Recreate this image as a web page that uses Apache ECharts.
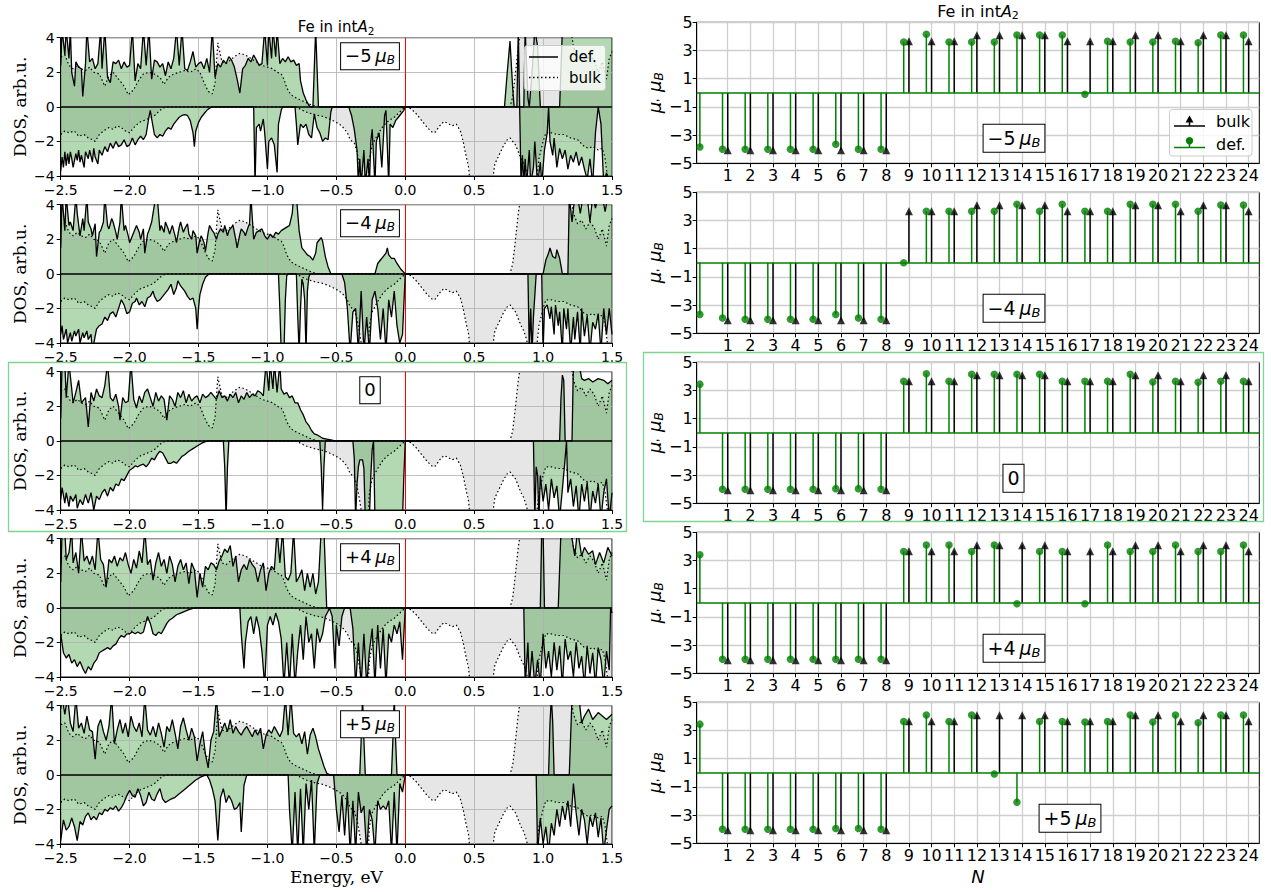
<!DOCTYPE html>
<html><head><meta charset="utf-8">
<script src="https://cdn.jsdelivr.net/npm/echarts@6.0.0/dist/echarts.min.js"></script>
<style>html,body{margin:0;padding:0;background:#fff}#c{width:1271px;height:892px}</style>
</head><body><div id="c"></div>
<script>
// ---------- DOS data (energy eV, DOS arb.u.) ----------
const bulkUp = [[-2.5,2.9],[-2.47,3.0],[-2.44,2.4],[-2.41,2.2],[-2.38,2.4],[-2.35,2.2],[-2.32,2.1],[-2.29,2.3],[-2.26,2.0],[-2.22,1.9],[-2.18,1.2],[-2.15,1.8],[-2.12,2.0],[-2.08,1.6],[-2.04,1.2],[-2.01,0.7],[-1.97,1.0],[-1.93,1.6],[-1.9,1.9],[-1.86,2.0],[-1.82,1.9],[-1.78,1.7],[-1.75,1.3],[-1.72,1.7],[-1.68,1.9],[-1.64,2.0],[-1.6,2.1],[-1.56,2.0],[-1.52,2.2],[-1.49,2.0],[-1.46,1.4],[-1.43,0.9],[-1.4,0.75],[-1.38,1.4],[-1.36,3.7],[-1.33,2.6],[-1.3,2.5],[-1.27,2.7],[-1.24,2.9],[-1.2,3.1],[-1.16,3.0],[-1.12,2.8],[-1.08,2.6],[-1.04,2.4],[-1.0,2.3],[-0.96,2.2],[-0.93,2.0],[-0.9,1.9],[-0.88,1.6],[-0.86,1.1],[-0.83,0.7],[-0.8,0.55],[-0.76,0.4],[-0.72,0.25],[-0.68,0.1],[-0.64,0.02],[-0.6,0],[0.76,0],[0.78,0.6],[0.8,2.0],[0.82,3.5],[0.84,4.6],[1.2,4.6],[1.22,3.5],[1.25,2.9],[1.28,3.1],[1.31,2.6],[1.34,3.0],[1.37,2.7],[1.4,2.0],[1.43,2.6],[1.46,1.6],[1.48,2.8],[1.5,3.2]];
const bulkDown = [[-2.5,-1.6],[-2.47,-1.4],[-2.44,-1.5],[-2.4,-1.4],[-2.37,-1.7],[-2.33,-1.6],[-2.3,-1.8],[-2.27,-1.9],[-2.25,-2.0],[-2.22,-1.6],[-2.19,-1.4],[-2.15,-1.2],[-2.12,-1.3],[-2.09,-1.1],[-2.06,-1.2],[-2.03,-1.4],[-2.0,-1.5],[-1.97,-1.2],[-1.93,-0.9],[-1.9,-0.8],[-1.87,-0.7],[-1.84,-0.6],[-1.81,-0.45],[-1.78,-0.2],[-1.75,-0.05],[-1.72,0],[-0.8,0],[-0.77,-0.1],[-0.72,-0.3],[-0.66,-0.45],[-0.6,-0.55],[-0.55,-0.7],[-0.5,-0.9],[-0.46,-1.1],[-0.42,-1.5],[-0.4,-1.9],[-0.37,-2.1],[-0.35,-2.6],[-0.33,-3.5],[-0.31,-4.5],[-0.27,-4.5],[-0.26,-3.0],[-0.24,-2.2],[-0.2,-1.6],[-0.16,-1.1],[-0.12,-0.8],[-0.08,-0.6],[-0.04,-0.3],[0.0,0],[0.04,-0.1],[0.08,-0.4],[0.12,-0.8],[0.16,-1.2],[0.2,-1.5],[0.22,-1.45],[0.25,-1.1],[0.28,-0.85],[0.31,-0.95],[0.34,-1.1],[0.37,-1.0],[0.4,-1.4],[0.42,-2.0],[0.44,-2.8],[0.46,-3.5],[0.47,-4.5],[0.63,-4.5],[0.65,-3.3],[0.68,-2.8],[0.71,-2.3],[0.74,-1.9],[0.76,-1.8],[0.78,-2.0],[0.8,-2.2],[0.82,-2.6],[0.84,-3.0],[0.86,-3.3],[0.88,-3.8],[0.9,-4.5],[0.95,-4.5],[0.97,-3.0],[1.0,-2.0],[1.02,-1.5],[1.06,-1.5],[1.1,-1.6],[1.15,-1.6],[1.2,-1.8],[1.25,-1.9],[1.3,-2.3],[1.33,-2.4],[1.36,-2.3],[1.4,-2.5],[1.43,-2.4],[1.45,-3.0],[1.47,-4.2],[1.5,-4.5]];

const defUp1 = [[-2.5,2.4],[-2.49,4.5],[-2.47,3.0],[-2.46,4.5],[-2.44,2.8],[-2.43,4.5],[-2.42,2.0],[-2.4,1.2],[-2.39,2.6],[-2.37,2.3],[-2.35,2.2],[-2.34,0.6],[-2.32,2.5],[-2.31,4.5],[-2.29,2.6],[-2.27,2.8],[-2.25,2.2],[-2.23,2.5],[-2.21,4.5],[-2.2,2.2],[-2.18,4.5],[-2.16,1.7],[-2.14,1.4],[-2.12,2.6],[-2.1,2.5],[-2.08,2.7],[-2.06,2.2],[-2.04,2.6],[-2.02,2.3],[-2.0,2.4],[-1.98,4.5],[-1.96,1.5],[-1.94,2.5],[-1.92,2.2],[-1.9,4.5],[-1.88,2.4],[-1.86,4.5],[-1.84,1.6],[-1.82,2.7],[-1.8,2.6],[-1.78,2.3],[-1.76,2.5],[-1.74,1.8],[-1.72,2.6],[-1.7,2.2],[-1.68,2.8],[-1.66,4.5],[-1.64,2.4],[-1.62,4.5],[-1.6,2.2],[-1.58,2.1],[-1.56,2.6],[-1.54,3.2],[-1.52,2.3],[-1.5,2.5],[-1.48,2.6],[-1.46,2.2],[-1.44,2.8],[-1.42,2.0],[-1.4,4.5],[-1.38,1.7],[-1.36,2.5],[-1.34,2.3],[-1.32,2.7],[-1.3,2.5],[-1.28,2.9],[-1.26,2.7],[-1.24,2.3],[-1.22,1.6],[-1.2,0.8],[-1.18,2.2],[-1.16,2.4],[-1.14,2.8],[-1.12,2.6],[-1.1,3.0],[-1.08,2.7],[-1.06,2.4],[-1.04,2.5],[-1.02,4.5],[-1.0,2.4],[-0.99,4.5],[-0.97,2.8],[-0.96,4.5],[-0.94,2.9],[-0.93,4.5],[-0.91,2.5],[-0.89,2.8],[-0.87,2.6],[-0.85,2.9],[-0.83,2.6],[-0.81,2.7],[-0.79,2.4],[-0.77,2.5],[-0.76,1.5],[-0.74,0.8],[-0.72,0.4],[-0.7,0.1],[-0.69,0],[-0.67,0],[-0.65,4.5],[-0.63,0],[0.72,0],[0.74,2.0],[0.76,3.8],[0.78,1.0],[0.79,0],[0.81,0],[0.82,4.5],[0.83,0],[0.86,0],[0.87,4.5],[0.89,0.5],[0.9,0],[0.92,2],[0.94,4.5],[0.96,3.5],[0.98,0],[1.12,0],[1.14,4.5],[1.5,4.5]];
const defDown1 = [[-2.5,-3.7],[-2.49,-2.9],[-2.48,-3.5],[-2.47,-2.6],[-2.46,-3.4],[-2.45,-2.7],[-2.44,-3.3],[-2.43,-2.6],[-2.42,-3.0],[-2.41,-3.5],[-2.39,-2.7],[-2.38,-3.1],[-2.37,-2.5],[-2.36,-3.2],[-2.35,-2.8],[-2.33,-3.5],[-2.32,-2.6],[-2.3,-3.0],[-2.29,-2.5],[-2.27,-3.2],[-2.26,-2.4],[-2.25,-2.9],[-2.23,-3.3],[-2.22,-2.5],[-2.2,-2.8],[-2.18,-2.3],[-2.16,-2.6],[-2.14,-2.1],[-2.12,-2.4],[-2.1,-2.0],[-2.08,-2.3],[-2.06,-2.2],[-2.04,-1.9],[-2.02,-2.3],[-2.0,-2.2],[-1.98,-1.8],[-1.96,-2.2],[-1.94,-1.9],[-1.92,-1.7],[-1.9,-1.9],[-1.88,-1.6],[-1.86,-0.6],[-1.85,-0.2],[-1.84,-0.7],[-1.82,-1.6],[-1.8,-1.8],[-1.78,-1.6],[-1.76,-1.7],[-1.74,-1.4],[-1.72,-1.2],[-1.7,-1.3],[-1.68,-1.0],[-1.66,-0.8],[-1.64,-0.6],[-1.62,-0.5],[-1.6,-0.45],[-1.58,-0.5],[-1.56,-0.8],[-1.54,-1.5],[-1.53,-2.3],[-1.52,-1.4],[-1.5,-0.9],[-1.48,-0.6],[-1.46,-0.4],[-1.44,-0.2],[-1.42,-0.08],[-1.4,0],[-1.1,0],[-1.09,-4.5],[-1.08,-1.2],[-1.06,-1.0],[-1.05,-1.4],[-1.03,-0.7],[-1.02,-1.5],[-1.0,-3.6],[-0.99,-2.0],[-0.97,-1.8],[-0.95,-2.2],[-0.93,-3.8],[-0.92,-1.0],[-0.9,-0.2],[-0.89,0],[-0.8,0],[-0.79,-1.0],[-0.78,-2.2],[-0.76,-1.0],[-0.74,-1.2],[-0.72,-1.0],[-0.7,-1.6],[-0.68,-1.8],[-0.66,-0.4],[-0.64,-1.2],[-0.62,-1.5],[-0.6,-2.0],[-0.58,-1.8],[-0.56,-1.9],[-0.54,-0.3],[-0.53,0],[-0.41,0],[-0.39,-0.5],[-0.37,-1.3],[-0.35,-2.5],[-0.34,-4.5],[-0.33,-3.0],[-0.32,-4.5],[-0.3,-2.5],[-0.29,-4.5],[-0.27,-3.0],[-0.26,-4.5],[-0.25,-2.0],[-0.24,-1.3],[-0.22,-4.5],[-0.21,-2.0],[-0.19,-1.5],[-0.17,-3.5],[-0.15,-0.5],[-0.14,-0.2],[-0.12,-4.5],[-0.11,-1.0],[-0.09,-1.2],[-0.07,-0.8],[-0.05,-0.6],[-0.03,-0.4],[-0.01,-0.2],[0.0,0],[0.83,0],[0.84,-4.5],[0.85,-2.8],[0.86,-4.5],[0.87,-3.0],[0.88,-4.5],[0.9,-2.5],[0.91,-4.5],[0.93,-3.5],[0.94,-2.0],[0.96,-4.5],[0.98,-3.2],[0.99,-4.5],[1.01,-2.5],[1.03,-1.5],[1.04,0],[1.05,-2.0],[1.07,-2.8],[1.08,-1.8],[1.1,-3.5],[1.12,-2.4],[1.14,-3.0],[1.16,-2.5],[1.18,-3.6],[1.2,-2.8],[1.22,-3.2],[1.24,-2.6],[1.26,-3.4],[1.28,-2.9],[1.3,-3.6],[1.32,-4.2],[1.34,-3.0],[1.36,-4.5],[1.38,-1.5],[1.4,0],[1.42,-1.0],[1.44,-4.5],[1.46,-3.8],[1.48,-4.5],[1.5,-4.0]];

const defUp2 = [[-2.5,1.5],[-2.49,4.5],[-2.47,2.5],[-2.46,4.5],[-2.44,2.8],[-2.43,3.0],[-2.41,2.5],[-2.39,4.5],[-2.38,3.5],[-2.36,2.2],[-2.34,3.2],[-2.33,2.5],[-2.31,4.5],[-2.3,3.0],[-2.28,2.6],[-2.27,2.2],[-2.25,2.9],[-2.24,1.0],[-2.22,2.4],[-2.21,2.5],[-2.19,3.0],[-2.18,4.5],[-2.16,2.8],[-2.15,2.6],[-2.13,3.2],[-2.12,3.0],[-2.1,2.4],[-2.09,2.0],[-2.07,3.0],[-2.06,4.5],[-2.04,2.5],[-2.03,2.8],[-2.01,2.2],[-2.0,1.8],[-1.98,2.2],[-1.96,2.6],[-1.95,2.8],[-1.93,2.4],[-1.92,2.0],[-1.9,2.6],[-1.89,1.2],[-1.87,2.3],[-1.86,2.5],[-1.84,3.0],[-1.83,3.5],[-1.81,4.5],[-1.8,4.5],[-1.78,2.5],[-1.77,2.8],[-1.75,2.4],[-1.74,3.0],[-1.72,2.6],[-1.71,2.3],[-1.69,2.8],[-1.67,2.2],[-1.66,1.8],[-1.64,2.7],[-1.63,3.0],[-1.61,2.4],[-1.6,2.6],[-1.58,2.9],[-1.57,2.3],[-1.55,2.0],[-1.54,2.5],[-1.52,2.2],[-1.51,1.2],[-1.49,2.0],[-1.48,2.2],[-1.46,1.8],[-1.45,1.3],[-1.43,2.4],[-1.42,2.8],[-1.4,2.5],[-1.39,2.4],[-1.37,2.0],[-1.36,2.3],[-1.34,2.6],[-1.32,2.4],[-1.31,2.8],[-1.29,2.2],[-1.28,2.5],[-1.26,2.7],[-1.25,2.8],[-1.23,2.0],[-1.22,1.5],[-1.2,2.3],[-1.19,2.6],[-1.17,2.4],[-1.16,2.2],[-1.14,2.7],[-1.13,2.9],[-1.12,4.5],[-1.1,2.0],[-1.08,2.4],[-1.06,2.5],[-1.04,2.6],[-1.02,2.2],[-1.0,2.0],[-0.98,2.3],[-0.96,2.1],[-0.94,2.4],[-0.92,2.3],[-0.9,2.5],[-0.88,2.6],[-0.86,2.7],[-0.84,2.8],[-0.82,3.5],[-0.81,4.5],[-0.79,4.5],[-0.77,2.5],[-0.75,1.5],[-0.73,1.3],[-0.71,1.1],[-0.69,1.0],[-0.67,0.8],[-0.65,1.2],[-0.64,1.8],[-0.62,2.0],[-0.61,2.1],[-0.6,1.9],[-0.58,1.0],[-0.56,0.4],[-0.54,0],[-0.22,0],[-0.2,0.6],[-0.18,0.8],[-0.16,1.0],[-0.14,1.2],[-0.13,1.5],[-0.12,1.1],[-0.1,0.9],[-0.08,0.9],[-0.06,0.6],[-0.03,0.25],[0,0],[1.0,0],[1.02,0.8],[1.04,1.2],[1.05,1.5],[1.07,1.0],[1.09,0.9],[1.1,1.4],[1.12,0.9],[1.14,0],[1.18,0],[1.19,4.5],[1.21,3.0],[1.23,4.5],[1.25,4.5],[1.27,3.5],[1.29,4.5],[1.32,4.5],[1.34,3.0],[1.36,4.5],[1.38,3.8],[1.4,4.5],[1.43,4.5],[1.45,3.6],[1.47,4.5],[1.5,4.5]];
const defDown2 = [[-2.5,-3.5],[-2.49,-3.0],[-2.48,-3.8],[-2.46,-3.2],[-2.45,-4.0],[-2.43,-3.4],[-2.42,-3.9],[-2.4,-3.3],[-2.39,-3.6],[-2.37,-3.2],[-2.36,-4.0],[-2.34,-3.4],[-2.33,-3.7],[-2.31,-3.3],[-2.3,-3.8],[-2.28,-3.5],[-2.27,-4.5],[-2.25,-3.6],[-2.24,-3.2],[-2.22,-3.0],[-2.2,-2.9],[-2.18,-2.5],[-2.16,-2.7],[-2.14,-2.3],[-2.12,-2.2],[-2.1,-2.5],[-2.08,-2.0],[-2.06,-1.5],[-2.04,-1.8],[-2.02,-2.3],[-2.0,-2.2],[-1.98,-1.7],[-1.96,-1.6],[-1.95,-1.4],[-1.93,-1.8],[-1.91,-1.6],[-1.89,-1.9],[-1.87,-1.4],[-1.85,-1.3],[-1.83,-1.0],[-1.82,-1.3],[-1.8,-1.6],[-1.78,-1.5],[-1.76,-1.3],[-1.74,-1.1],[-1.72,-0.9],[-1.7,-0.6],[-1.69,-0.9],[-1.68,-1.2],[-1.66,-0.8],[-1.65,-0.4],[-1.63,-0.7],[-1.61,-0.9],[-1.6,-1.0],[-1.58,-1.3],[-1.56,-1.5],[-1.54,-1.4],[-1.52,-2.0],[-1.51,-3.2],[-1.5,-2.0],[-1.49,-1.2],[-1.47,-0.6],[-1.45,-0.2],[-1.43,-0.05],[-1.42,0],[-0.92,0],[-0.91,-2.0],[-0.9,-4.5],[-0.88,-4.5],[-0.87,-1.5],[-0.86,-0.1],[-0.85,0],[-0.79,0],[-0.78,-2.5],[-0.77,-4.5],[-0.76,-2.0],[-0.75,-0.3],[-0.74,-0.6],[-0.73,-1.5],[-0.72,-4.5],[-0.71,-1.0],[-0.7,-0.2],[-0.69,0],[-0.46,0],[-0.44,-0.5],[-0.42,-2.0],[-0.4,-4.5],[-0.38,-2.2],[-0.36,-2.0],[-0.34,-4.5],[-0.32,-1.0],[-0.3,-4.5],[-0.28,-2.5],[-0.26,-4.5],[-0.24,-1.5],[-0.22,-1.0],[-0.2,-2.0],[-0.18,-3.8],[-0.16,-2.0],[-0.14,-4.5],[-0.12,-1.5],[-0.1,-2.5],[-0.08,-1.0],[-0.06,-3.0],[-0.04,-4.0],[-0.02,-3.5],[0,0],[0.89,0],[0.9,-4.5],[0.91,-2.0],[0.92,-4.5],[0.93,-2.5],[0.95,0],[0.99,0],[1.0,-4.5],[1.01,-2.0],[1.03,-1.8],[1.05,-2.6],[1.06,-1.9],[1.08,-3.5],[1.09,-1.8],[1.11,-3.0],[1.12,-2.2],[1.14,-4.5],[1.15,-2.0],[1.17,-3.2],[1.18,-2.0],[1.2,-4.5],[1.22,-2.5],[1.23,-3.8],[1.25,-2.2],[1.27,-4.5],[1.28,-2.0],[1.3,-3.6],[1.32,-2.4],[1.34,-4.5],[1.36,-2.8],[1.38,-3.2],[1.4,-2.3],[1.42,-4.5],[1.44,-2.0],[1.46,-3.5],[1.48,-2.0],[1.5,-3.5]];

const defUp3 = [[-2.5,1.3],[-2.49,4.5],[-2.47,4.5],[-2.46,2.5],[-2.44,4.5],[-2.42,3.0],[-2.41,2.2],[-2.39,2.8],[-2.37,3.5],[-2.35,2.2],[-2.32,2.5],[-2.3,0.8],[-2.28,2.8],[-2.26,2.3],[-2.24,3.0],[-2.22,2.6],[-2.2,2.5],[-2.18,3.2],[-2.16,4.5],[-2.14,2.5],[-2.12,2.3],[-2.1,2.7],[-2.08,2.0],[-2.07,1.2],[-2.05,2.5],[-2.03,2.2],[-2.01,2.3],[-1.99,4.5],[-1.97,2.4],[-1.95,1.9],[-1.93,2.6],[-1.91,2.2],[-1.89,2.8],[-1.87,3.0],[-1.85,2.5],[-1.83,2.0],[-1.81,2.8],[-1.79,2.3],[-1.77,2.6],[-1.75,2.4],[-1.73,1.2],[-1.71,2.6],[-1.69,2.4],[-1.67,2.0],[-1.65,2.8],[-1.63,2.5],[-1.61,2.9],[-1.59,2.2],[-1.57,2.7],[-1.55,2.3],[-1.53,2.5],[-1.51,2.6],[-1.49,2.2],[-1.47,2.7],[-1.45,2.5],[-1.43,2.6],[-1.41,2.8],[-1.39,2.6],[-1.37,2.4],[-1.35,2.9],[-1.33,2.5],[-1.31,2.6],[-1.29,2.3],[-1.27,2.7],[-1.25,2.5],[-1.23,2.8],[-1.21,2.2],[-1.19,2.6],[-1.17,2.4],[-1.15,2.8],[-1.13,2.5],[-1.11,2.7],[-1.09,2.6],[-1.07,2.9],[-1.05,2.8],[-1.03,2.6],[-1.01,4.5],[-0.99,2.9],[-0.98,4.5],[-0.96,3.0],[-0.95,4.5],[-0.93,2.8],[-0.91,4.5],[-0.9,3.0],[-0.88,2.7],[-0.86,2.8],[-0.84,2.5],[-0.82,2.6],[-0.8,2.2],[-0.78,2.2],[-0.76,1.8],[-0.74,1.5],[-0.72,1.1],[-0.7,0.9],[-0.68,0.6],[-0.66,0.4],[-0.64,0.35],[-0.62,0.25],[-0.6,0.15],[-0.57,0.1],[-0.54,0.05],[-0.51,0],[1.12,0],[1.13,2.5],[1.14,3.8],[1.15,3.5],[1.16,0],[1.21,0],[1.22,4.5],[1.26,4.5],[1.28,3.6],[1.3,3.5],[1.33,3.6],[1.36,3.4],[1.4,3.6],[1.44,3.5],[1.47,3.3],[1.5,3.5]];
const defDown3 = [[-2.5,-3.4],[-2.49,-2.7],[-2.47,-3.6],[-2.46,-3.0],[-2.44,-3.8],[-2.43,-3.2],[-2.41,-3.5],[-2.39,-3.1],[-2.38,-3.9],[-2.36,-3.4],[-2.34,-3.7],[-2.32,-3.1],[-2.3,-3.6],[-2.28,-3.0],[-2.26,-4.0],[-2.24,-3.2],[-2.22,-3.4],[-2.2,-3.0],[-2.18,-2.8],[-2.16,-3.2],[-2.14,-2.7],[-2.12,-2.9],[-2.1,-2.5],[-2.08,-2.6],[-2.06,-2.2],[-2.04,-2.3],[-2.02,-2.0],[-2.0,-1.7],[-1.98,-1.6],[-1.96,-1.45],[-1.94,-1.5],[-1.92,-1.4],[-1.9,-1.35],[-1.88,-1.5],[-1.86,-1.3],[-1.84,-1.0],[-1.82,-1.1],[-1.8,-0.8],[-1.78,-0.6],[-1.76,-0.7],[-1.74,-1.0],[-1.72,-1.3],[-1.7,-1.3],[-1.68,-1.2],[-1.66,-1.3],[-1.64,-1.1],[-1.62,-0.9],[-1.6,-0.8],[-1.57,-0.6],[-1.54,-0.45],[-1.51,-0.3],[-1.48,-0.15],[-1.45,-0.05],[-1.42,0],[-1.32,0],[-1.31,-1.5],[-1.3,-4.5],[-1.29,-1.5],[-1.28,0],[-0.62,0],[-0.61,-1.5],[-0.6,-4.0],[-0.59,-1.5],[-0.58,0],[-0.38,0],[-0.37,-1.0],[-0.36,-4.5],[-0.35,-2.5],[-0.34,-1.5],[-0.33,-1.1],[-0.31,-1.1],[-0.3,-1.6],[-0.29,-4.5],[-0.26,-4.5],[-0.25,-2.0],[-0.24,-0.5],[-0.23,0],[-0.22,-4.5],[-0.2,-4.5],[-0.18,-4.2],[-0.15,-4.5],[-0.12,-4.5],[-0.1,-4.4],[-0.07,-4.5],[-0.04,-4.5],[-0.02,-4.5],[-0.01,-2.0],[0,0],[0.93,0],[0.94,-4.5],[0.95,-1.5],[0.96,-2.0],[0.97,-4.5],[0.98,-2.0],[1.0,-3.5],[1.02,-2.5],[1.04,-4.0],[1.06,-2.2],[1.08,-3.3],[1.1,-2.6],[1.12,-4.5],[1.14,-2.8],[1.16,-1.0],[1.17,0],[1.18,-3.0],[1.2,-2.2],[1.22,-3.8],[1.24,-2.6],[1.26,-4.5],[1.28,-2.5],[1.3,-3.5],[1.32,-2.4],[1.34,-4.5],[1.36,-2.9],[1.38,-3.6],[1.4,-2.5],[1.42,-4.5],[1.44,-3.0],[1.46,-2.2],[1.48,-4.5],[1.5,-3.0]];

const defUp4 = [[-2.5,1.5],[-2.49,4.5],[-2.47,4.5],[-2.46,2.8],[-2.44,3.2],[-2.42,4.5],[-2.41,2.6],[-2.39,3.2],[-2.37,2.0],[-2.35,4.5],[-2.33,2.7],[-2.31,3.0],[-2.29,2.5],[-2.27,3.0],[-2.25,2.2],[-2.23,4.5],[-2.21,2.8],[-2.19,2.5],[-2.17,1.2],[-2.15,2.8],[-2.13,2.6],[-2.11,3.0],[-2.09,2.4],[-2.07,2.9],[-2.05,2.7],[-2.03,3.2],[-2.01,2.5],[-1.99,2.0],[-1.97,2.8],[-1.95,2.3],[-1.93,3.3],[-1.91,2.6],[-1.89,4.5],[-1.87,2.5],[-1.85,2.8],[-1.83,1.6],[-1.81,2.6],[-1.79,3.2],[-1.77,2.4],[-1.75,2.8],[-1.73,2.0],[-1.71,3.0],[-1.69,2.5],[-1.67,1.5],[-1.65,2.4],[-1.63,2.8],[-1.61,2.2],[-1.59,2.6],[-1.57,1.4],[-1.55,2.6],[-1.53,2.2],[-1.51,0.6],[-1.49,2.0],[-1.47,1.2],[-1.45,2.4],[-1.43,2.2],[-1.41,2.6],[-1.39,2.5],[-1.37,2.2],[-1.35,2.7],[-1.33,3.0],[-1.31,3.4],[-1.29,3.2],[-1.27,3.6],[-1.25,2.4],[-1.23,3.0],[-1.21,1.5],[-1.19,2.2],[-1.17,2.5],[-1.15,2.2],[-1.13,2.8],[-1.11,2.5],[-1.09,2.3],[-1.07,1.5],[-1.05,2.2],[-1.03,2.6],[-1.01,1.0],[-0.99,2.0],[-0.97,2.4],[-0.95,2.2],[-0.93,4.5],[-0.91,2.6],[-0.89,4.5],[-0.87,1.8],[-0.85,1.6],[-0.83,2.0],[-0.81,4.5],[-0.79,1.5],[-0.77,1.8],[-0.75,2.2],[-0.73,1.0],[-0.71,2.0],[-0.69,1.2],[-0.67,2.0],[-0.65,0.8],[-0.63,1.5],[-0.61,4.5],[-0.59,4.5],[-0.57,0],[0.98,0],[0.99,4.5],[1.0,4.5],[1.01,0],[1.11,0],[1.13,4.5],[1.2,4.5],[1.23,3.0],[1.25,4.5],[1.28,3.0],[1.3,3.5],[1.33,3.1],[1.36,3.3],[1.38,2.5],[1.41,3.2],[1.44,2.6],[1.47,3.5],[1.5,3.0]];
const defDown4 = [[-2.5,-1.5],[-2.48,-2.6],[-2.46,-2.9],[-2.44,-2.7],[-2.42,-3.2],[-2.4,-3.0],[-2.38,-3.4],[-2.36,-3.1],[-2.34,-3.5],[-2.32,-3.8],[-2.3,-3.4],[-2.28,-3.6],[-2.26,-3.2],[-2.24,-3.0],[-2.22,-2.6],[-2.2,-2.5],[-2.18,-2.4],[-2.16,-2.3],[-2.14,-2.4],[-2.12,-2.2],[-2.1,-2.1],[-2.08,-1.8],[-2.06,-1.6],[-2.04,-1.7],[-2.02,-1.5],[-2.0,-1.5],[-1.98,-1.4],[-1.96,-1.5],[-1.94,-1.4],[-1.92,-1.5],[-1.9,-1.4],[-1.88,-0.8],[-1.87,-0.5],[-1.85,-0.9],[-1.83,-1.5],[-1.81,-1.6],[-1.79,-1.4],[-1.77,-1.5],[-1.75,-1.2],[-1.73,-0.9],[-1.71,-0.7],[-1.69,-0.6],[-1.66,-0.4],[-1.63,-0.3],[-1.6,-0.2],[-1.57,-0.1],[-1.54,-0.03],[-1.52,0],[-1.2,0],[-1.19,-1.5],[-1.17,-3.5],[-1.16,-2.0],[-1.14,-0.8],[-1.12,-0.5],[-1.1,-1.5],[-1.08,-0.5],[-1.06,-1.2],[-1.04,-2.5],[-1.02,-4.5],[-1.0,-1.0],[-0.98,-0.5],[-0.96,-1.0],[-0.94,-0.3],[-0.92,-0.8],[-0.9,-1.8],[-0.88,-4.5],[-0.86,-2.0],[-0.84,-4.5],[-0.82,-1.5],[-0.8,-4.5],[-0.78,-2.5],[-0.76,-1.0],[-0.74,-3.0],[-0.72,-0.5],[-0.7,-2.0],[-0.68,-1.5],[-0.66,-3.5],[-0.64,-1.2],[-0.62,-2.0],[-0.6,-1.5],[-0.58,-0.5],[-0.56,-0.2],[-0.55,0],[-0.53,-0.5],[-0.51,-3.5],[-0.5,-1.0],[-0.48,-2.2],[-0.46,-0.5],[-0.44,0],[-0.4,0],[-0.38,-1.2],[-0.36,-4.5],[-0.34,-2.0],[-0.32,-4.5],[-0.3,-1.5],[-0.28,-4.5],[-0.26,-2.5],[-0.24,-1.2],[-0.22,-4.5],[-0.2,-1.0],[-0.18,-3.5],[-0.16,-1.2],[-0.14,-4.5],[-0.12,-1.5],[-0.1,-2.0],[-0.08,-1.0],[-0.06,-1.5],[-0.04,-0.8],[-0.02,-3.0],[0,0],[0.86,0],[0.87,-4.5],[0.89,-2.0],[0.9,-4.5],[0.92,-2.5],[0.94,-4.5],[0.96,-3.0],[0.98,-4.5],[1.0,-1.5],[1.02,-3.5],[1.04,-2.5],[1.06,-4.0],[1.08,-2.0],[1.1,-3.6],[1.12,-2.2],[1.14,-4.5],[1.16,-1.8],[1.18,-3.0],[1.2,-2.5],[1.22,-4.0],[1.24,-2.0],[1.26,-3.5],[1.28,-2.8],[1.3,-4.5],[1.32,-2.2],[1.34,-3.8],[1.36,-2.6],[1.38,-4.5],[1.4,-2.3],[1.42,-3.0],[1.44,-4.5],[1.46,-2.5],[1.48,-3.6],[1.49,0],[1.5,-0.3]];

const defUp5 = [[-2.5,3.8],[-2.49,4.5],[-2.47,3.5],[-2.45,4.5],[-2.43,3.0],[-2.41,2.5],[-2.39,4.5],[-2.37,2.7],[-2.35,3.0],[-2.33,2.4],[-2.31,3.4],[-2.29,2.6],[-2.27,2.5],[-2.25,0.9],[-2.23,2.8],[-2.21,3.2],[-2.19,2.5],[-2.17,2.0],[-2.15,2.8],[-2.13,4.5],[-2.11,1.8],[-2.09,2.6],[-2.07,3.2],[-2.05,2.4],[-2.03,3.0],[-2.01,2.2],[-1.99,3.4],[-1.97,2.8],[-1.95,2.5],[-1.93,3.0],[-1.91,2.2],[-1.89,4.5],[-1.87,2.6],[-1.85,2.3],[-1.83,2.8],[-1.81,2.2],[-1.79,3.0],[-1.77,2.4],[-1.75,1.6],[-1.73,2.8],[-1.71,2.5],[-1.69,3.2],[-1.67,2.4],[-1.65,1.5],[-1.63,2.8],[-1.61,3.3],[-1.59,2.6],[-1.57,2.0],[-1.55,2.7],[-1.53,2.2],[-1.51,0.8],[-1.49,1.8],[-1.47,2.5],[-1.45,1.2],[-1.43,0.4],[-1.41,2.0],[-1.39,2.5],[-1.37,4.5],[-1.35,2.2],[-1.33,2.6],[-1.31,3.0],[-1.29,2.5],[-1.27,3.2],[-1.25,2.4],[-1.23,2.8],[-1.21,2.5],[-1.19,2.3],[-1.17,2.6],[-1.15,2.8],[-1.13,2.5],[-1.11,2.2],[-1.09,2.6],[-1.07,2.3],[-1.05,2.7],[-1.03,1.5],[-1.01,2.3],[-0.99,2.6],[-0.97,2.4],[-0.95,2.8],[-0.93,2.5],[-0.91,2.2],[-0.89,2.6],[-0.87,4.5],[-0.85,2.3],[-0.83,4.5],[-0.81,2.4],[-0.79,2.2],[-0.77,2.4],[-0.75,1.8],[-0.73,2.5],[-0.71,1.2],[-0.69,2.3],[-0.67,2.7],[-0.65,2.2],[-0.63,1.5],[-0.61,1.0],[-0.59,0.5],[-0.57,0.1],[-0.55,0],[-0.33,0],[-0.32,2.0],[-0.31,4.5],[-0.3,2.0],[-0.29,0],[-0.1,0],[-0.09,2.0],[-0.08,4.5],[-0.07,2.0],[-0.06,0],[1.04,0],[1.05,3.0],[1.06,4.5],[1.07,3.0],[1.08,0],[1.19,0],[1.21,4.5],[1.26,4.5],[1.28,3.0],[1.3,3.4],[1.33,3.8],[1.36,3.2],[1.4,3.6],[1.43,3.4],[1.46,3.2],[1.5,3.5]];
const defDown5 = [[-2.5,-3.8],[-2.48,-2.6],[-2.46,-3.2],[-2.44,-3.0],[-2.42,-2.5],[-2.4,-3.0],[-2.38,-3.8],[-2.36,-2.7],[-2.34,-2.9],[-2.32,-2.4],[-2.3,-2.2],[-2.28,-2.6],[-2.26,-2.4],[-2.24,-2.6],[-2.22,-2.2],[-2.2,-2.3],[-2.18,-2.0],[-2.16,-2.1],[-2.14,-1.9],[-2.12,-2.0],[-2.1,-1.8],[-2.08,-2.1],[-2.06,-1.9],[-2.04,-1.6],[-2.02,-1.2],[-2.0,-0.9],[-1.98,-1.2],[-1.96,-1.3],[-1.94,-0.8],[-1.92,-1.2],[-1.9,-1.8],[-1.88,-1.6],[-1.86,-1.0],[-1.84,-1.4],[-1.82,-1.5],[-1.8,-1.1],[-1.78,-0.8],[-1.76,-1.4],[-1.74,-1.6],[-1.72,-1.5],[-1.7,-1.4],[-1.67,-1.3],[-1.64,-1.1],[-1.61,-0.9],[-1.58,-0.7],[-1.55,-0.5],[-1.52,-0.3],[-1.49,-0.15],[-1.46,-0.05],[-1.44,0],[-1.42,-0.3],[-1.4,-0.8],[-1.38,-1.5],[-1.36,-3.8],[-1.34,-1.3],[-1.32,-0.8],[-1.3,-1.6],[-1.28,-1.2],[-1.26,-1.5],[-1.24,-2.0],[-1.22,-1.9],[-1.2,-1.6],[-1.19,-3.3],[-1.17,-0.6],[-1.15,0],[-0.85,0],[-0.84,-2.0],[-0.82,-4.5],[-0.8,-1.0],[-0.78,-4.5],[-0.76,-0.8],[-0.74,-4.5],[-0.72,-0.5],[-0.7,-2.0],[-0.68,-0.3],[-0.66,-4.5],[-0.64,-0.5],[-0.62,0],[-0.52,0],[-0.5,-2.0],[-0.48,-3.3],[-0.46,-1.2],[-0.44,-3.5],[-0.42,-1.0],[-0.4,-4.5],[-0.38,-1.5],[-0.36,-4.5],[-0.34,-1.0],[-0.32,-2.2],[-0.3,-1.8],[-0.28,-4.5],[-0.26,-2.0],[-0.24,-2.6],[-0.22,-4.5],[-0.2,-1.5],[-0.18,-2.0],[-0.16,-1.8],[-0.14,-2.0],[-0.12,-1.5],[-0.1,-4.5],[-0.08,-1.0],[-0.06,-4.5],[-0.04,-0.5],[-0.02,-1.0],[0,0],[0.95,0],[0.96,-4.5],[0.98,-2.5],[1.0,-4.0],[1.02,-3.0],[1.04,-4.5],[1.06,-2.8],[1.08,-3.5],[1.1,-2.0],[1.12,-3.0],[1.14,-1.8],[1.16,-2.6],[1.18,-1.5],[1.2,-3.0],[1.22,-0.5],[1.24,-2.2],[1.26,-3.5],[1.28,-2.0],[1.3,-2.6],[1.32,-4.0],[1.34,-2.4],[1.36,-3.0],[1.38,-2.2],[1.4,-3.6],[1.42,-2.5],[1.44,-4.5],[1.46,-3.2],[1.48,-2.0],[1.5,-1.8]];

// ---------- magnetic moments (mu_B) ----------
const bulkN = [1,2,3,4,5,6,7,8,9,10,11,12,13,14,15,16,17,18,19,20,21,22,23,24];
const bulkMu = [-4.08,-4.08,-4.08,-4.08,-4.08,-4.08,-4.08,-4.08,3.65,3.65,3.65,4.08,4.08,4.08,4.08,3.65,3.65,3.65,4.08,4.08,3.65,4.08,4.08,3.65];
const defN = [0,1,2,3,4,5,6,7,8,9,10,11,12,13,14,15,16,17,18,19,20,21,22,23,24];
const defMu1 = [-3.85,-4.0,-4.0,-4.0,-4.0,-4.0,-3.65,-4.0,-4.0,3.6,4.15,3.6,3.6,3.6,4.1,4.1,4.1,-0.1,3.65,3.6,3.6,3.65,3.55,4.1,4.1];
const defMu2 = [-3.66,-3.92,-4.0,-4.0,-4.0,-4.0,-3.66,-3.92,-4.0,0.0,3.66,3.66,3.66,3.66,4.15,3.66,4.15,3.66,3.66,4.15,4.15,4.15,3.66,4.1,4.1];
const defMu3 = [3.45,-4.0,-4.0,-4.0,-4.0,-4.0,-3.96,-3.96,-4.0,3.66,4.18,3.66,4.15,4.15,4.15,4.15,3.66,3.66,3.66,4.15,3.6,3.66,3.59,3.66,3.66];
const defMu4 = [3.4,-4.0,-4.0,-4.0,-4.0,-4.0,-4.0,-4.0,-4.0,3.64,4.1,4.1,3.64,4.1,-0.07,3.64,3.64,-0.07,4.1,3.64,3.64,4.1,3.64,3.64,4.1];
const defMu5 = [3.45,-4.0,-4.0,-4.0,-4.0,-4.0,-3.95,-3.95,-4.0,3.64,4.1,3.64,4.1,-0.08,-2.08,3.64,3.64,3.6,3.64,4.1,3.6,4.1,3.55,4.1,4.1];

const chargeTags = ['\u22125', '\u22124', '0', '+4', '+5'];
const nTicks = [1,2,3,4,5,6,7,8,9,10,11,12,13,14,15,16,17,18,19,20,21,22,23,24];
const muTicks = [-5,-3,-1,1,3,5];

// ---------- layout ----------
const defUps = [defUp1, defUp2, defUp3, defUp4, defUp5];
const defDowns = [defDown1, defDown2, defDown3, defDown4, defDown5];
const defMus = [defMu1, defMu2, defMu3, defMu4, defMu5];
const dosTop = [37.7, 204.7, 371.7, 538.7, 705.7];
const stemTop = [22.3, 192.3, 362.3, 532.3, 702.3];
const tagStemX = [1014, 1014, 1013.5, 1014, 1070];
const GREEN = '#008000';
const FONT = 'DejaVu Sans';

const fmt1 = v => (v < 0 ? '\u2212' : '') + Math.abs(v).toFixed(1);
const fmt0 = v => (v < 0 ? '\u2212' : '') + Math.abs(Math.round(v));

const grids = [], xAxes = [], yAxes = [], series = [], graphics = [];

for (let k = 0; k < 5; k++) {
  grids.push({left: 60.7, top: dosTop[k], width: 551.3, height: 138.3, show: true, borderColor: '#000', borderWidth: 1, backgroundColor: 'transparent', outerBoundsMode: 'none'});
  xAxes.push({gridIndex: k, type: 'value', min: -2.5, max: 1.5, interval: 0.5, z: 3,
    axisLine: {show: true, onZero: false, lineStyle: {color: '#000', width: 1}},
    axisTick: {show: true, length: 4, lineStyle: {color: '#000'}},
    axisLabel: {color: '#000', fontSize: 14, fontFamily: FONT, margin: 7, lineHeight: 14, formatter: fmt1, showMinLabel: true, showMaxLabel: true},
    splitLine: {show: true, lineStyle: {color: '#b0b0b0', width: 0.8}},
    name: k === 4 ? 'Energy, eV' : '', nameLocation: 'middle', nameGap: 24,
    nameTextStyle: {fontFamily: 'DejaVu Serif', fontSize: 17, color: '#000'}});
  yAxes.push({gridIndex: k, type: 'value', min: -4, max: 4, interval: 2, z: 3,
    axisLine: {show: true, onZero: false, lineStyle: {color: '#000', width: 1}},
    axisTick: {show: true, length: 4, lineStyle: {color: '#000'}},
    axisLabel: {color: '#000', fontSize: 14, fontFamily: FONT, margin: 6, lineHeight: 12, formatter: fmt0, showMinLabel: true, showMaxLabel: true},
    splitLine: {show: true, lineStyle: {color: '#b0b0b0', width: 0.8}},
    name: 'DOS, arb.u.', nameLocation: 'middle', nameGap: 32, nameRotate: 90,
    nameTextStyle: {fontFamily: 'DejaVu Serif', fontSize: 17, color: '#000'}});
  const common = {type: 'line', xAxisIndex: k, yAxisIndex: k, symbol: 'none', showSymbol: false, silent: true, animation: false, clip: true};
  const fills = [[bulkUp, 'rgba(128,128,128,0.2)'], [bulkDown, 'rgba(128,128,128,0.2)'],
                 [defUps[k], 'rgba(0,128,0,0.3)'], [defDowns[k], 'rgba(0,128,0,0.3)']];
  fills.forEach(([d, c]) => series.push(Object.assign({}, common, {data: d, z: 1,
    lineStyle: {width: 0, opacity: 0}, areaStyle: {color: c, opacity: 1, origin: 'auto'}})));
  series.push(Object.assign({}, common, {name: 'bulk', data: bulkUp, z: 5,
    lineStyle: {color: '#000', width: 1.2, type: [1.5, 2.5]}}));
  series.push(Object.assign({}, common, {name: 'bulk', data: bulkDown, z: 5,
    lineStyle: {color: '#000', width: 1.2, type: [1.5, 2.5]}}));
  series.push(Object.assign({}, common, {name: 'def.', data: defUps[k], z: 6,
    lineStyle: {color: '#000', width: 1.3},
    markLine: {silent: true, symbol: 'none', label: {show: false}, animation: false,
      data: [{xAxis: 0, lineStyle: {color: '#ff0000', width: 1, type: 'solid'}},
             {yAxis: 0, lineStyle: {color: '#000', width: 1.6, type: 'solid'}}]}}));
  series.push(Object.assign({}, common, {name: 'def.', data: defDowns[k], z: 6,
    lineStyle: {color: '#000', width: 1.3}}));

  const tag = chargeTags[k];
  const richText = tag === '0' ? '{n|0}' : '{n|' + tag + '\u2009}{m|\u03bc}{s|B}';
  const rich = {
    n: {fontFamily: FONT, fontSize: 18, lineHeight: 21, fill: '#000'},
    m: {fontFamily: FONT, fontSize: 18, fontStyle: 'italic', lineHeight: 21, fill: '#000'},
    s: {fontFamily: FONT, fontSize: 12, fontStyle: 'italic', lineHeight: 14, verticalAlign: 'bottom', fill: '#000'}
  };
  graphics.push({type: 'text', x: 370, y: dosTop[k] + 18.5, z: 50,
    style: {text: richText, rich: rich, align: 'center', verticalAlign: 'middle',
      backgroundColor: '#fff', borderColor: '#000', borderWidth: 1, padding: [2, 4, 3, 4]}});
}

function stemRender(color) {
  return function (params, api) {
    const x = api.value(0), y = api.value(1);
    const p0 = api.coord([x, 0]), p1 = api.coord([x, y]);
    return {type: 'line', shape: {x1: p0[0], y1: p0[1], x2: p1[0], y2: p1[1]}, style: {stroke: color, lineWidth: 1.5}};
  };
}

for (let k = 0; k < 5; k++) {
  const gi = 5 + k;
  grids.push({left: 696.7, top: stemTop[k], width: 562.6, height: 141, show: true, borderColor: '#000', borderWidth: 1, backgroundColor: 'transparent', outerBoundsMode: 'none'});
  xAxes.push({gridIndex: gi, type: 'value', min: -0.37, max: 24.47,
    axisLine: {show: true, onZero: false, lineStyle: {color: '#000', width: 1}},
    axisTick: {show: true, length: 4, customValues: nTicks, lineStyle: {color: '#000'}},
    axisLabel: {color: '#000', fontSize: 16, fontFamily: FONT, margin: 4, customValues: nTicks, formatter: v => String(v)},
    splitLine: {show: true, lineStyle: {color: '#cfcfcf', width: 1.3}},
    name: k === 4 ? 'N' : '', nameLocation: 'middle', nameGap: 24,
    nameTextStyle: {fontFamily: FONT, fontStyle: 'italic', fontSize: 18, color: '#000'}});
  yAxes.push({gridIndex: gi, type: 'value', min: -5, max: 5,
    axisLine: {show: true, onZero: false, lineStyle: {color: '#000', width: 1}},
    axisTick: {show: true, length: 4, customValues: muTicks, lineStyle: {color: '#000'}},
    axisLabel: {color: '#000', fontSize: 16, fontFamily: FONT, margin: 4, customValues: muTicks, formatter: fmt0},
    splitLine: {show: true, lineStyle: {color: '#cfcfcf', width: 1.3}},
    name: '{m|\u03bc},  {m|\u03bc}{s|B}', nameLocation: 'middle', nameGap: 30, nameRotate: 90,
    nameTextStyle: {color: '#000', rich: {
      m: {fontFamily: FONT, fontStyle: 'italic', fontSize: 18, lineHeight: 22},
      s: {fontFamily: FONT, fontStyle: 'italic', fontSize: 12, lineHeight: 14, verticalAlign: 'bottom'}}}});

  const bulkData = bulkN.map((n, i) => [n, bulkMu[i]]);
  const defData = defN.map((n, i) => [n - 0.23, defMus[k][i]]);
  series.push({type: 'custom', name: 'bulkStem', xAxisIndex: gi, yAxisIndex: gi, data: bulkData, renderItem: stemRender('#000'), silent: true, animation: false, z: 3});
  series.push({type: 'custom', name: 'defStem', xAxisIndex: gi, yAxisIndex: gi, data: defData, renderItem: stemRender(GREEN), silent: true, animation: false, z: 3});
  series.push({type: 'scatter', name: 'bulkMark', xAxisIndex: gi, yAxisIndex: gi, data: bulkData, symbol: 'triangle', symbolSize: [8, 8], itemStyle: {color: '#000'}, silent: true, animation: false, z: 5});
  series.push({type: 'scatter', name: 'defMark', xAxisIndex: gi, yAxisIndex: gi, data: defData, symbol: 'circle', symbolSize: 7.5, itemStyle: {color: GREEN}, silent: true, animation: false, z: 6,
    markLine: {silent: true, symbol: 'none', label: {show: false}, animation: false, data: [{yAxis: 0}],
      lineStyle: {color: GREEN, width: 1.6, type: 'solid'}}});

  const tag = chargeTags[k];
  const richText = tag === '0' ? '{n|0}' : '{n|' + tag + '\u2009}{m|\u03bc}{s|B}';
  graphics.push({type: 'text', x: tagStemX[k], y: stemTop[k] + 116, z: 50,
    style: {text: richText, align: 'center', verticalAlign: 'middle',
      rich: {
        n: {fontFamily: FONT, fontSize: 19, lineHeight: 22, fill: '#000'},
        m: {fontFamily: FONT, fontSize: 19, fontStyle: 'italic', lineHeight: 22, fill: '#000'},
        s: {fontFamily: FONT, fontSize: 13, fontStyle: 'italic', lineHeight: 15, verticalAlign: 'bottom', fill: '#000'}},
      backgroundColor: '#fff', borderColor: '#000', borderWidth: 1, padding: [2, 4, 3, 4]}});
}

// titles
graphics.push({type: 'text', x: 336, y: 27, style: {text: '{a|Fe in int}{i|A}{s|2}', rich: {
  a: {fontFamily: FONT, fontSize: 15, lineHeight: 19, fill: '#000'},
  i: {fontFamily: FONT, fontSize: 15, fontStyle: 'italic', lineHeight: 19, fill: '#000'},
  s: {fontFamily: FONT, fontSize: 10.5, lineHeight: 12, verticalAlign: 'bottom', fill: '#000'}}, align: 'center', verticalAlign: 'middle'}});
graphics.push({type: 'text', x: 978, y: 11, style: {text: '{a|Fe in int}{i|A}{s|2}', rich: {
  a: {fontFamily: FONT, fontSize: 16, lineHeight: 20, fill: '#000'},
  i: {fontFamily: FONT, fontSize: 16, fontStyle: 'italic', lineHeight: 20, fill: '#000'},
  s: {fontFamily: FONT, fontSize: 11, lineHeight: 12, verticalAlign: 'bottom', fill: '#000'}}, align: 'center', verticalAlign: 'middle'}});

// highlight frames around the "0" panels
graphics.push({type: 'rect', z: 60, shape: {x: 8.5, y: 362.5, width: 618, height: 169}, style: {fill: 'none', stroke: '#7fd48f', lineWidth: 1.3}});
graphics.push({type: 'rect', z: 60, shape: {x: 643.5, y: 352.5, width: 620, height: 169}, style: {fill: 'none', stroke: '#7fd48f', lineWidth: 1.3}});

// DOS legend (panel 1)
const Z = 80;
graphics.push({type: 'rect', z: Z, shape: {x: 524.5, y: 45.5, width: 81, height: 45, r: 3}, style: {fill: 'rgba(255,255,255,0.8)', stroke: '#cccccc', lineWidth: 1}});
graphics.push({type: 'line', z: Z + 1, shape: {x1: 529, y1: 57, x2: 558, y2: 57}, style: {stroke: '#000', lineWidth: 1.5}});
graphics.push({type: 'text', z: Z + 1, x: 569, y: 57, style: {text: 'def.', fontFamily: FONT, fontSize: 15, fill: '#000', verticalAlign: 'middle'}});
graphics.push({type: 'line', z: Z + 1, shape: {x1: 529, y1: 77.5, x2: 558, y2: 77.5}, style: {stroke: '#000', lineWidth: 1.5, lineDash: [1.5, 2.5]}});
graphics.push({type: 'text', z: Z + 1, x: 569, y: 77.5, style: {text: 'bulk', fontFamily: FONT, fontSize: 15, fill: '#000', verticalAlign: 'middle'}});

// stem legend (panel 1)
graphics.push({type: 'rect', z: Z, shape: {x: 1169.5, y: 109.5, width: 82.5, height: 46.5, r: 3}, style: {fill: 'rgba(255,255,255,0.8)', stroke: '#cccccc', lineWidth: 1}});
graphics.push({type: 'line', z: Z + 1, shape: {x1: 1174, y1: 126, x2: 1205, y2: 126}, style: {stroke: '#000', lineWidth: 1.5}});
graphics.push({type: 'line', z: Z + 1, shape: {x1: 1189.5, y1: 126, x2: 1189.5, y2: 119}, style: {stroke: '#000', lineWidth: 1.5}});
graphics.push({type: 'polygon', z: Z + 1, shape: {points: [[1185.5, 122.5], [1193.5, 122.5], [1189.5, 115.5]]}, style: {fill: '#000'}});
graphics.push({type: 'text', z: Z + 1, x: 1216, y: 121.5, style: {text: 'bulk', fontFamily: FONT, fontSize: 16, fill: '#000', verticalAlign: 'middle'}});
graphics.push({type: 'line', z: Z + 1, shape: {x1: 1174, y1: 147.5, x2: 1205, y2: 147.5}, style: {stroke: GREEN, lineWidth: 1.5}});
graphics.push({type: 'line', z: Z + 1, shape: {x1: 1189.5, y1: 147.5, x2: 1189.5, y2: 141}, style: {stroke: GREEN, lineWidth: 1.5}});
graphics.push({type: 'circle', z: Z + 1, shape: {cx: 1189.5, cy: 140.7, r: 3.7}, style: {fill: GREEN}});
graphics.push({type: 'text', z: Z + 1, x: 1216, y: 144, style: {text: 'def.', fontFamily: FONT, fontSize: 16, fill: '#000', verticalAlign: 'middle'}});

const chart = echarts.init(document.getElementById('c'), null, {renderer: 'svg', width: 1271, height: 892});
chart.setOption({
  animation: false,
  backgroundColor: '#fff',
  grid: grids, xAxis: xAxes, yAxis: yAxes, series: series, graphic: graphics
});
</script></body></html>
